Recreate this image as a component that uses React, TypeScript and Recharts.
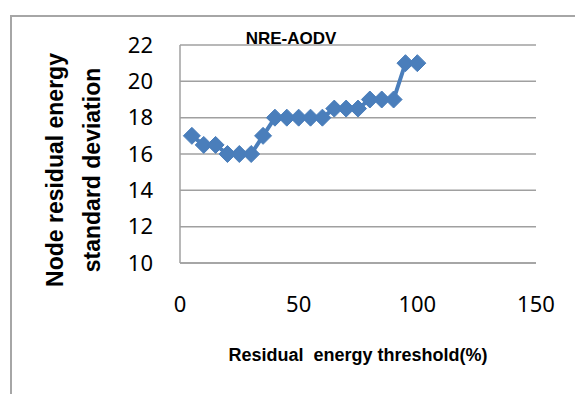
import { CartesianGrid, Line, LineChart, XAxis, YAxis } from 'recharts';

// Residual energy threshold (%) against node residual energy std deviation.
const THRESHOLDS = [5, 10, 15, 20, 25, 30, 35, 40, 45, 50, 55, 60, 65, 70, 75, 80, 85, 90, 95, 100];
const STD_DEV = [17, 16.5, 16.5, 16, 16, 16, 17, 18, 18, 18, 18, 18, 18.5, 18.5, 18.5, 19, 19, 19, 21, 21];
const X_TICKS = [0, 50, 100, 150];
const Y_TICKS = [10, 12, 14, 16, 18, 20, 22];

const data = THRESHOLDS.map((x, i) => ({ x, y: STD_DEV[i] }));

const BLUE = '#4a7ebb';
const GRID = '#a0a0a0';
const TICK_FONT = { fontSize: 22, fill: '#000', fontFamily: '"Noto Sans", sans-serif' };
const BOLD = { fontWeight: 700, fontFamily: '"Liberation Sans", Arial, sans-serif', fill: '#000' };

function Diamond(props: { cx?: number; cy?: number; index?: number }) {
  const { cx, cy } = props;
  if (cx == null || cy == null) return null;
  const r = 8.5;
  return (
    <path
      key={props.index}
      d={`M${cx},${cy - r} L${cx + r},${cy} L${cx},${cy + r} L${cx - r},${cy} Z`}
      fill={BLUE}
      stroke={BLUE}
      strokeWidth={1}
    />
  );
}

function YTitle() {
  const style = { ...BOLD, fontSize: 23 };
  return (
    <g>
      <text x={63} y={170} textAnchor="middle" transform="rotate(-90 63 170)" style={style}>
        Node residual energy
      </text>
      <text x={100} y={170} textAnchor="middle" transform="rotate(-90 100 170)" style={style}>
        standard deviation
      </text>
    </g>
  );
}

function XTitle() {
  return (
    <text x={358} y={361} textAnchor="middle" style={{ ...BOLD, fontSize: 18 }}>
      Residual{'\u00a0\u00a0'}energy threshold(%)
    </text>
  );
}

export default function App() {
  return (
    <div style={{ position: 'absolute', left: 0, top: 0, width: 575, height: 394, background: '#fff' }}>
      <div
        style={{
          position: 'absolute',
          left: 10,
          top: 15,
          right: 0,
          bottom: 0,
          borderLeft: '2px solid #a6a6a6',
          borderTop: '2px solid #a6a6a6',
        }}
      />
      <LineChart
        width={575}
        height={394}
        data={data}
        margin={{ top: 45, right: 39, bottom: 91, left: 120 }}
        style={{ position: 'absolute', left: 0, top: 0 }}
      >
        <CartesianGrid vertical={false} stroke={GRID} strokeWidth={1.5} />
        <XAxis
          dataKey="x"
          type="number"
          domain={[0, 150]}
          ticks={X_TICKS}
          interval={0}
          stroke={GRID}
          strokeWidth={1.5}
          tickLine={false}
          tickSize={0}
          tickMargin={33}
          tick={TICK_FONT}
          height={40}
          label={{ value: 'Residual  energy threshold(%)', content: () => <XTitle /> }}
        />
        <YAxis
          type="number"
          domain={[10, 22]}
          ticks={Y_TICKS}
          interval={0}
          width={60}
          stroke={GRID}
          strokeWidth={1.5}
          tickLine={false}
          tickSize={0}
          tickMargin={27}
          tick={TICK_FONT}
          label={{ value: 'Node residual energy standard deviation', content: () => <YTitle /> }}
        />
        <Line
          dataKey="y"
          stroke={BLUE}
          strokeWidth={4}
          dot={<Diamond />}
          activeDot={false}
          isAnimationActive={false}
        />
        <text x={291} y={44} textAnchor="middle" style={{ ...BOLD, fontSize: 17 }}>
          NRE-AODV
        </text>
      </LineChart>
    </div>
  );
}
